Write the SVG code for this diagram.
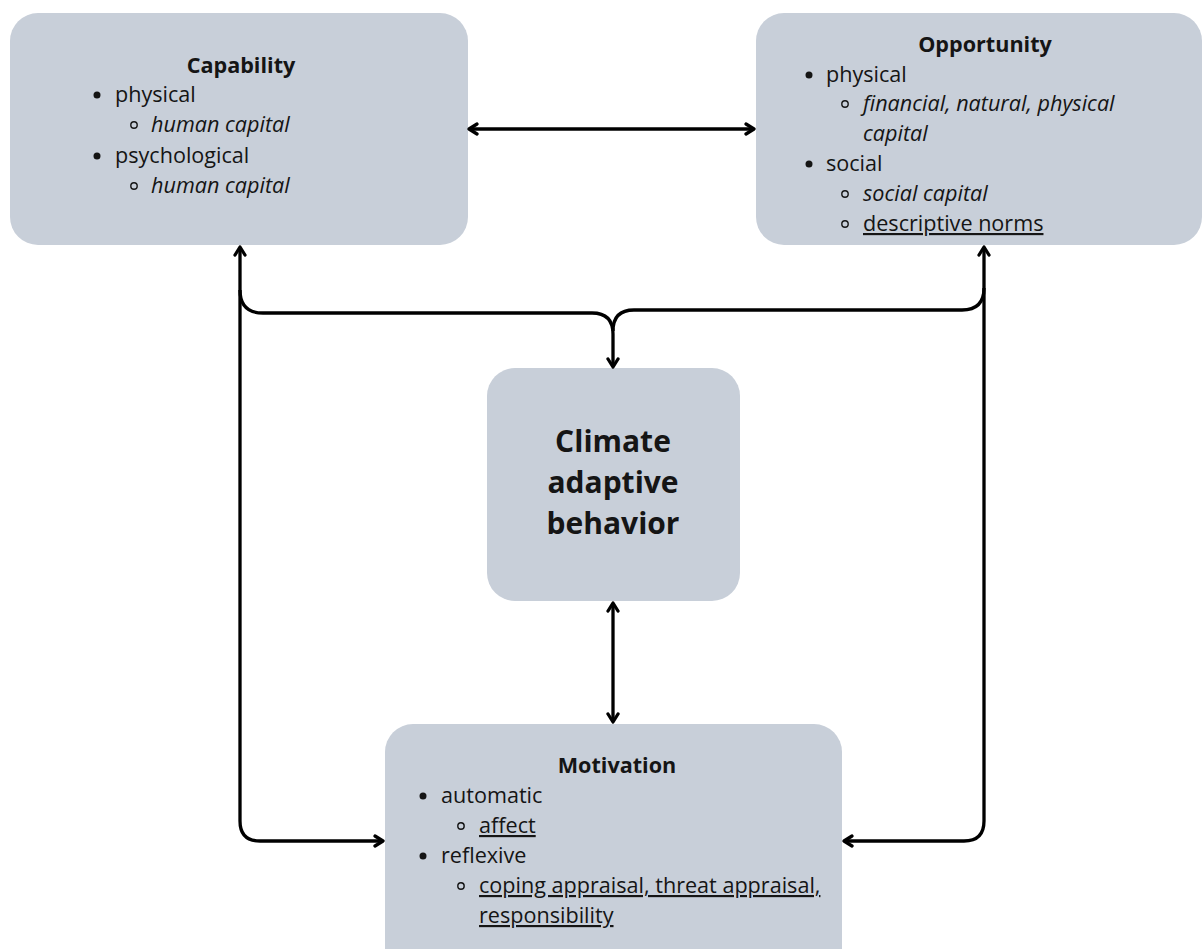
<svg xmlns="http://www.w3.org/2000/svg" width="1202" height="949" viewBox="0 0 1202 949">
<style>
.box{fill:#c8cfd9}
.t{font-family:"Open Sans","Liberation Sans",sans-serif;font-size:21.6px;fill:#151515}
.h{font-weight:bold;text-anchor:middle}
.big{font-family:"Open Sans","Liberation Sans",sans-serif;font-size:30px;font-weight:bold;fill:#151515;text-anchor:middle}
.i{font-style:italic}
.u{text-decoration:underline}
.b1{fill:#151515}
.b2{fill:none;stroke:#151515;stroke-width:1.4}
.c{fill:none;stroke:#000;stroke-width:3.3}
</style>
<defs>
<marker id="ah" viewBox="0 0 14 14" refX="12" refY="7" markerWidth="14" markerHeight="14" markerUnits="userSpaceOnUse" orient="auto-start-reverse">
<path d="M4,2 L12,7 L4,12" fill="none" stroke="#000" stroke-width="3.3" stroke-linecap="round" stroke-linejoin="round"/>
</marker>
</defs>
<rect width="1202" height="949" fill="#fff"/>

<g id="capability">
<rect class="box" x="10" y="13" width="458" height="232" rx="28"/>
<text class="t h" x="241" y="73">Capability</text>
<circle class="b1" cx="97" cy="95" r="3.5"/>
<text class="t" x="115" y="102">physical</text>
<circle class="b2" cx="134" cy="125" r="3.2"/>
<text class="t i" x="151" y="132">human capital</text>
<circle class="b1" cx="97" cy="156" r="3.5"/>
<text class="t" x="115" y="163">psychological</text>
<circle class="b2" cx="134" cy="186" r="3.2"/>
<text class="t i" x="151" y="193">human capital</text>
</g>

<g id="opportunity">
<rect class="box" x="756" y="13" width="446" height="232" rx="28"/>
<text class="t h" x="985" y="52">Opportunity</text>
<circle class="b1" cx="809" cy="75" r="3.5"/>
<text class="t" x="826" y="82">physical</text>
<circle class="b2" cx="845" cy="104" r="3.2"/>
<text class="t i" x="863" y="111">financial, natural, physical</text>
<text class="t i" x="863" y="141">capital</text>
<circle class="b1" cx="809" cy="164" r="3.5"/>
<text class="t" x="826" y="171">social</text>
<circle class="b2" cx="845" cy="194" r="3.2"/>
<text class="t i" x="863" y="201">social capital</text>
<circle class="b2" cx="845" cy="224" r="3.2"/>
<text class="t u" x="863" y="231">descriptive norms</text>
</g>

<g id="behavior">
<rect class="box" x="487" y="368" width="253" height="233" rx="28"/>
<text class="big" x="613" y="452">Climate</text>
<text class="big" x="613" y="493">adaptive</text>
<text class="big" x="613" y="534">behavior</text>
</g>

<g id="motivation">
<rect class="box" x="385" y="724" width="457" height="260" rx="28"/>
<text class="t h" x="617" y="773">Motivation</text>
<circle class="b1" cx="423" cy="796" r="3.5"/>
<text class="t" x="441" y="803">automatic</text>
<circle class="b2" cx="461" cy="826" r="3.2"/>
<text class="t u" x="479" y="833">affect</text>
<circle class="b1" cx="423" cy="856" r="3.5"/>
<text class="t" x="441" y="863">reflexive</text>
<circle class="b2" cx="461" cy="886" r="3.2"/>
<text class="t u" x="479" y="893">coping appraisal, threat appraisal,</text>
<text class="t u" x="479" y="923">responsibility</text>
</g>

<g id="connectors">
<path class="c" d="M469,129 L754,129" marker-start="url(#ah)" marker-end="url(#ah)"/>
<path class="c" d="M240,247 L240,821 Q240,841 260,841 L383,841" marker-start="url(#ah)" marker-end="url(#ah)"/>
<path class="c" d="M984,247 L984,821 Q984,841 964,841 L844,841" marker-start="url(#ah)" marker-end="url(#ah)"/>
<path class="c" d="M240,290 Q240,313 263,313 L592,313 Q613,313 613,334 L613,367" marker-end="url(#ah)"/>
<path class="c" d="M984,288 Q984,310 962,310 L634,310 Q613,310 613,331"/>
<path class="c" d="M613,603 L613,722" marker-start="url(#ah)" marker-end="url(#ah)"/>
</g>
</svg>
